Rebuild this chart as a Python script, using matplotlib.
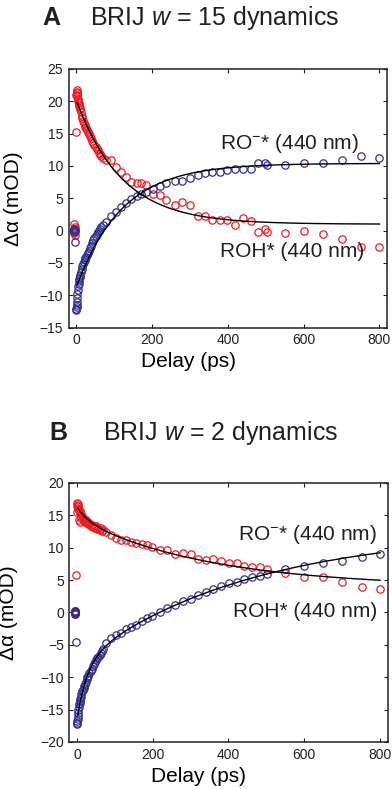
import numpy as np
import matplotlib
matplotlib.use("Agg")
import matplotlib.pyplot as plt

plt.rcParams['font.family'] = ['Liberation Sans', 'DejaVu Sans']
plt.rcParams['mathtext.fontset'] = 'custom'
plt.rcParams['mathtext.rm'] = 'Liberation Sans'
plt.rcParams['mathtext.it'] = 'Liberation Sans:italic'
plt.rcParams['text.color'] = '#231f20'

# ---------------- Panel A: BRIJ w = 15 ----------------
tA_early = [-6, -5.5, -5, -4.5, -4, -2.5, 0, 0.5, 1, 1.5, 2, 2.5, 3, 4, 5, 6, 7, 8, 9, 10,
            12, 14, 16, 18, 20, 22, 24, 26, 28, 30, 33, 36, 39, 42, 45, 48, 51, 54, 57, 60,
            63, 66, 70]
tA_late = [79, 92, 105, 118, 132, 145, 159, 172, 185, 203, 220, 238, 260, 280, 300, 320,
           340, 359, 379, 399, 420, 441, 460, 479, 498, 502, 551, 600, 650, 701, 751, 800]

rohA_early = [0.3, -0.4, 1.0, 0.6, -0.6, 0.2, 15.2, 21.0, 21.7, 21.5, 21.3, 21.0, 20.8,
              20.4, 20.0, 19.8, 19.5, 19.2, 19.0, 18.8, 18.3, 17.8, 17.4, 17.0, 16.7, 16.4,
              16.1, 15.8, 15.6, 15.3, 15.0, 14.6, 14.3, 13.9, 13.6, 13.3, 13.0, 12.7, 12.4,
              12.0, 11.8, 11.6, 11.2]
rohA_late = [10.9, 10.9, 9.9, 9.1, 8.3, 7.5, 7.4, 7.4, 7.0, 5.7, 5.5, 4.8, 4.0, 4.5, 3.9,
             2.2, 2.2, 1.7, 1.7, 1.6, 0.8, 2.0, 1.5, -0.2, 0.3, -0.2, -0.4, -0.1, -0.5, -1.3,
             -2.6, -2.6]

roA_early = [0.1, -0.2, 0.2, 0.0, -0.1, -1.8, -12.3, -12.1, -11.8, -11.5, -11.0, -10.4,
             -9.8, -9.2, -8.6, -8.2, -7.8, -7.5, -7.2, -6.9, -6.4, -5.9, -5.5, -5.2, -4.9,
             -4.6, -4.3, -4.0, -3.7, -3.5, -3.1, -2.7, -2.3, -1.9, -1.5, -1.2, -0.8, -0.5,
             -0.2, 0.0, 0.3, 0.5, 0.8]
roA_late = [1.3, 2.2, 2.9, 3.6, 4.2, 4.9, 5.3, 5.6, 6.0, 6.5, 6.9, 7.3, 7.6, 7.6, 8.1, 8.6,
            8.9, 9.1, 9.1, 9.4, 9.6, 9.5, 9.5, 10.4, 10.4, 10.2, 10.1, 10.4, 10.5, 10.9,
            11.6, 11.25]

# single-exponential fit parameters (offset, amplitude, time constant in ps)
fitA_roh = (1.0, 19.2, 120.0)
fitA_ro = (10.4, -19.15, 120.0)

# ---------------- Panel B: BRIJ w = 2 ----------------
tB_early = [-6, -5.5, -5, -4.5, -4, -2.5, 0.5, 1, 1.5, 2, 2.5, 3, 4, 5, 6, 7, 8, 9, 10,
            12, 14, 16, 18, 20, 22, 24, 26, 28, 30, 33, 36, 39, 42, 45, 48, 51, 54, 57, 60,
            63, 66, 70]
tB_late = [78, 91, 104, 117, 130, 144, 157, 171, 184, 197, 219, 238, 259, 279, 300, 320,
           340, 360, 381, 402, 422, 442, 462, 482, 502, 550, 600, 650, 700, 751, 800]

rohB_early = [-0.1, 0.2, 0.0, 0.3, -0.2, 5.8, 15.5, 16.5, 16.9, 16.8, 16.4, 16.2, 16.0,
              14.3, 15.8, 15.6, 14.0, 15.3, 15.2, 14.6, 14.9, 14.5, 14.4, 14.2, 14.0, 14.3,
              13.8, 14.0, 13.6, 13.8, 13.4, 13.5, 13.2, 13.4, 13.0, 13.3, 12.9, 13.1, 12.7,
              13.0, 12.6, 12.8]
rohB_late = [12.5, 12.0, 11.5, 11.2, 11.2, 10.9, 10.7, 10.6, 10.4, 10.1, 9.65, 9.65, 9.1,
             9.2, 9.0, 8.3, 8.1, 8.3, 8.0, 7.7, 7.6, 7.1, 7.0, 7.0, 6.7, 6.05, 5.5, 5.5,
             4.75, 4.0, 3.6]

roB_early = [0.0, -0.2, 0.1, 0.2, -0.1, -4.5, -17.3, -17.0, -16.7, -16.4, -16.0, -15.6,
             -15.0, -14.6, -14.2, -14.0, -13.6, -13.3, -13.0, -12.6, -12.2, -11.9, -11.6,
             -11.3, -11.0, -10.7, -10.3, -10.0, -9.8, -9.4, -9.0, -8.7, -8.3, -8.0, -7.7,
             -7.4, -7.1, -6.9, -6.5, -6.3, -6.0, -5.7]
roB_late = [-4.7, -4.0, -3.5, -3.1, -2.6, -2.3, -1.9, -1.3, -0.9, -0.6, 0.0, 0.65, 1.15,
            1.7, 2.1, 2.7, 3.2, 3.7, 4.1, 4.5, 4.75, 5.2, 5.4, 5.7, 5.95, 6.7, 7.2, 7.7,
            7.95, 8.6, 9.1]

# bi-exponential fit parameters (offset, amp1, tau1, amp2, tau2)
fitB_roh = (3.9, 1.8, 30.0, 10.6, 350.0)
fitB_ro = (12.7, -8.7, 27.0, -20.6, 450.0)

RED = '#ed1c24'
BLUE = '#2e3192'

fig = plt.figure(figsize=(3.92, 7.89), dpi=100)


def style_axes(ax, yticks):
    ax.set_xlim(-20, 820)
    ax.set_xticks([0, 200, 400, 600, 800])
    ax.set_yticks(yticks)
    ax.set_ylim(yticks[0], yticks[-1])
    ax.tick_params(direction='in', top=True, right=True, length=3, width=0.8,
                   labelsize=10, colors='#231f20', pad=4)
    for s in ax.spines.values():
        s.set_linewidth(1.1)
        s.set_color('#231f20')
    ax.set_ylabel('Δα (mOD)', fontsize=15)
    ax.set_xlabel('Delay (ps)', fontsize=15)


def scatter(ax, t, y, color):
    ax.plot(t, y, linestyle='none', marker='o', markersize=5.3, markerfacecolor='none',
            markeredgecolor=color, markeredgewidth=0.9)


tfit = np.linspace(2, 800, 400)
RO_LABEL = r'RO$^{-}$* (440 nm)'
ROH_LABEL = 'ROH* (440 nm)'

# Panel A
axA = fig.add_axes([0.1753, 0.5847, 0.812, 0.3279])
scatter(axA, tA_early + tA_late, rohA_early + rohA_late, RED)
scatter(axA, tA_early + tA_late, roA_early + roA_late, BLUE)
for c, a, tau in (fitA_roh, fitA_ro):
    axA.plot(tfit, c + a * np.exp(-tfit / tau), color='black', lw=1.0)
style_axes(axA, [-15, -10, -5, 0, 5, 10, 15, 20, 25])
axA.xaxis.set_label_coords(0.376, -0.095)
axA.yaxis.set_label_coords(-0.145, 0.5)
axA.text(379, 13.5, RO_LABEL, fontsize=15, ha='left', va='center')
axA.text(379, -3.3, ROH_LABEL, fontsize=15, ha='left', va='center')

# Panel B
axB = fig.add_axes([0.1768, 0.0596, 0.8122, 0.3283])
scatter(axB, tB_early + tB_late, rohB_early + rohB_late, RED)
scatter(axB, tB_early + tB_late, roB_early + roB_late, BLUE)
for c, a1, t1, a2, t2 in (fitB_roh, fitB_ro):
    axB.plot(tfit, c + a1 * np.exp(-tfit / t1) + a2 * np.exp(-tfit / t2), color='black', lw=1.0)
style_axes(axB, [-20, -15, -10, -5, 0, 5, 10, 15, 20])
axB.xaxis.set_label_coords(0.407, -0.095)
axB.yaxis.set_label_coords(-0.16, 0.5)
axB.text(426, 12.0, RO_LABEL, fontsize=15, ha='left', va='center')
axB.text(413, 0.13, ROH_LABEL, fontsize=15, ha='left', va='center')

# Panel titles
fig.text(0.107, 0.977, 'A', fontsize=18, fontweight='bold', ha='left', va='center')
fig.text(0.2296, 0.977, 'BRIJ $w$ = 15 dynamics', fontsize=18, ha='left', va='center')
fig.text(0.125, 0.451, 'B', fontsize=18, fontweight='bold', ha='left', va='center')
fig.text(0.263, 0.451, 'BRIJ $w$ = 2 dynamics', fontsize=18, ha='left', va='center')

fig.savefig('out.png', dpi=100)
